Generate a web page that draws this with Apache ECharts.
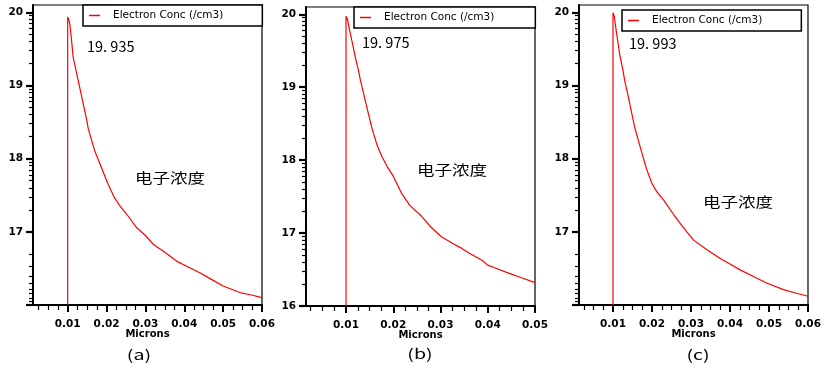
<!DOCTYPE html>
<html><head><meta charset="utf-8">
<script src="https://cdn.jsdelivr.net/npm/echarts@6/dist/echarts.min.js"></script>
<style>html,body{margin:0;padding:0;background:#fff}#c{width:828px;height:370px}</style>
</head><body><div id="c"></div>
<script>
// ---------- data ----------
const seriesName = 'Electron Conc (/cm3)';
const xAxisName = 'Microns';
const noteText = '电子浓度';
const peakLabels = ['19. 935', '19. 975', '19. 993'];
const panelLabels = ['(a)', '(b)', '(c)'];

const xA = [0.01, 0.01, 0.0103, 0.0106, 0.0110, 0.0114, 0.0120, 0.0127, 0.0134, 0.0140, 0.0147, 0.0153, 0.0160, 0.0170, 0.0183, 0.0195, 0.0204, 0.0220, 0.0235, 0.0252, 0.0277, 0.0300, 0.0320, 0.0350, 0.0380, 0.0410, 0.0440, 0.0470, 0.0500, 0.0543, 0.0570, 0.0600];
const yA = [16.0, 19.935, 19.90, 19.82, 19.62, 19.39, 19.24, 19.07, 18.90, 18.75, 18.58, 18.41, 18.28, 18.10, 17.93, 17.77, 17.65, 17.47, 17.35, 17.24, 17.06, 16.95, 16.83, 16.72, 16.60, 16.52, 16.44, 16.35, 16.26, 16.17, 16.14, 16.10];

const xB = [0.01, 0.01, 0.0103, 0.0107, 0.0115, 0.0120, 0.0126, 0.0131, 0.0137, 0.0145, 0.0154, 0.0158, 0.0166, 0.0176, 0.0188, 0.0200, 0.0218, 0.0235, 0.0260, 0.0280, 0.0302, 0.0325, 0.0345, 0.0365, 0.0387, 0.0400, 0.0420, 0.0444, 0.0470, 0.0500];
const yB = [16.0, 19.975, 19.93, 19.80, 19.56, 19.40, 19.24, 19.08, 18.92, 18.70, 18.46, 18.37, 18.20, 18.05, 17.90, 17.78, 17.54, 17.38, 17.23, 17.08, 16.95, 16.86, 16.79, 16.71, 16.63, 16.56, 16.51, 16.45, 16.39, 16.32];

const xC = [0.01, 0.01, 0.0103, 0.0109, 0.0118, 0.0125, 0.0131, 0.0138, 0.0144, 0.0150, 0.0156, 0.0165, 0.0174, 0.0186, 0.0199, 0.0212, 0.0229, 0.0255, 0.0280, 0.0306, 0.0340, 0.0374, 0.0400, 0.0426, 0.0460, 0.0494, 0.0537, 0.0570, 0.0600];
const yC = [16.0, 19.993, 19.95, 19.72, 19.40, 19.22, 19.04, 18.88, 18.72, 18.57, 18.42, 18.25, 18.08, 17.86, 17.67, 17.55, 17.44, 17.24, 17.06, 16.89, 16.76, 16.64, 16.56, 16.48, 16.39, 16.30, 16.21, 16.16, 16.12];

const xMajorA = [0.01, 0.02, 0.03, 0.04, 0.05, 0.06];
const xMajorB = [0.01, 0.02, 0.03, 0.04, 0.05];
const xMajorC = [0.01, 0.02, 0.03, 0.04, 0.05, 0.06];
const yMajor = [16, 17, 18, 19, 20];
const yLabelsA = [17, 18, 19, 20];
const yLabelsB = [16, 17, 18, 19, 20];
const yLabelsC = [17, 18, 19, 20];

// ---------- layout ----------
const panels = [
  { x: xA, y: yA, xMajor: xMajorA, yLabels: yLabelsA, xMin: 0.00108, xMax: 0.06, mirror: true,
    grid: { left: 33, top: 5, width: 229, height: 300 },
    legend: { left: 83, top: 5, padding: [5, 39, 5, 6] },
    peak: [87, 46], note: [135, 178], label: [139, 355] },
  { x: xB, y: yB, xMajor: xMajorB, yLabels: yLabelsB, xMin: 0.00153, xMax: 0.05, mirror: false,
    grid: { left: 306, top: 7, width: 229, height: 299 },
    legend: { left: 354, top: 7, padding: [5, 41, 5, 6] },
    peak: [362, 42], note: [417, 170], label: [420, 354] },
  { x: xC, y: yC, xMajor: xMajorC, yLabels: yLabelsC, xMin: 0.00128, xMax: 0.06, mirror: true,
    grid: { left: 579, top: 5, width: 229, height: 300 },
    legend: { left: 622, top: 10, padding: [5, 39, 5, 6] },
    peak: [629, 43], note: [703, 202], label: [698, 355] }
];

function yMinorTicks(mirror) {
  const out = [];
  for (let D = 16; D <= 19; D++) {
    for (let k = 2; k <= 9; k++) {
      out.push((mirror && D === 16) ? D + 1 - Math.log10(k) : D + Math.log10(k));
    }
  }
  return out;
}
function xMinorTicks(min, max) {
  const out = [];
  for (let i = 1; i * 0.0025 <= max + 1e-9; i++) {
    if (i % 4 === 0) continue;
    const v = i * 0.0025;
    if (v > min) out.push(+v.toFixed(4));
  }
  return out;
}

const FONT = 'DejaVu Sans';
const grid = [], xAxis = [], yAxis = [], series = [], legend = [], graphic = [];

panels.forEach((p, i) => {
  grid.push(Object.assign({ show: true, borderColor: '#000', borderWidth: 1.2, backgroundColor: '#fff' }, p.grid));
  // major x axis
  xAxis.push({
    gridIndex: i, type: 'value', position: 'bottom', offset: 0, min: p.xMin, max: p.xMax,
    name: xAxisName, nameLocation: 'middle', nameGap: 24, nameMoveOverlap: false,
    nameTextStyle: { color: '#000', fontSize: 10, fontWeight: 'bold', fontFamily: FONT, verticalAlign: 'top' },
    axisLine: { show: true, onZero: false, lineStyle: { color: '#000', width: 2 } },
    axisTick: { show: true, customValues: p.xMajor, length: 7, lineStyle: { color: '#000', width: 2 } },
    axisLabel: { show: true, customValues: p.xMajor, margin: 14, color: '#000', fontSize: 10.5, fontWeight: 'bold', fontFamily: FONT,
      formatter: v => v.toFixed(2) },
    splitLine: { show: false }
  });
  // minor x axis
  xAxis.push({
    gridIndex: i, type: 'value', position: 'bottom', offset: 0, min: p.xMin, max: p.xMax,
    axisLine: { show: false, onZero: false },
    axisTick: { show: true, customValues: xMinorTicks(p.xMin, p.xMax), length: 5, lineStyle: { color: '#000', width: 1.2 } },
    axisLabel: { show: false }, splitLine: { show: false }
  });
  // major y axis
  yAxis.push({
    gridIndex: i, type: 'value', position: 'left', offset: 0, min: 16, max: 20.1,
    axisLine: { show: true, onZero: false, lineStyle: { color: '#000', width: 2 } },
    axisTick: { show: true, customValues: yMajor, length: 7, lineStyle: { color: '#000', width: 2.2 } },
    axisLabel: { show: true, customValues: p.yLabels, margin: 10, color: '#000', fontSize: 10.5, fontWeight: 'bold', fontFamily: FONT },
    splitLine: { show: false }
  });
  // minor y axis
  yAxis.push({
    gridIndex: i, type: 'value', position: 'left', offset: 0, min: 16, max: 20.1,
    axisLine: { show: false, onZero: false },
    axisTick: { show: true, customValues: yMinorTicks(p.mirror), length: 4, lineStyle: { color: '#000', width: 1.2 } },
    axisLabel: { show: false }, splitLine: { show: false }
  });
  series.push({
    type: 'line', name: seriesName, xAxisIndex: 2 * i, yAxisIndex: 2 * i,
    data: p.x.map((xv, j) => [xv, p.y[j]]),
    showSymbol: false, symbol: 'none', smooth: false, clip: true,
    lineStyle: { color: '#ff0000', width: 1.2 }, itemStyle: { color: '#ff0000' }
  });
  legend.push({
    data: [seriesName], left: p.legend.left, top: p.legend.top, padding: p.legend.padding,
    orient: 'horizontal', icon: 'rect', itemWidth: 11, itemHeight: 1.5,
    borderColor: '#000', borderWidth: 1.5, backgroundColor: '#fff', borderRadius: 0,
    selectedMode: false,
    textStyle: { color: '#000', fontSize: 10.5, fontFamily: FONT, padding: [0, 0, 0, 8] }
  });
  graphic.push({
    type: 'text', x: p.peak[0], y: p.peak[1], z: 100,
    style: { text: peakLabels[i], fill: '#000', fontSize: 14.5, fontFamily: 'Noto Sans CJK SC', verticalAlign: 'middle', align: 'left' }
  });
  graphic.push({
    type: 'text', x: p.note[0], y: p.note[1], scaleX: 1.25, z: 100,
    style: { text: noteText, fill: '#000', fontSize: 14, fontFamily: 'Noto Sans CJK SC', verticalAlign: 'middle', align: 'left' }
  });
  graphic.push({
    type: 'text', x: p.label[0], y: p.label[1], scaleX: 1.4, z: 100,
    style: { text: panelLabels[i], fill: '#000', fontSize: 14, fontFamily: 'Noto Sans CJK SC', verticalAlign: 'middle', align: 'center' }
  });
});

const chart = echarts.init(document.getElementById('c'), null, { renderer: 'canvas' });
chart.setOption({
  animation: false,
  backgroundColor: '#fff',
  textStyle: { fontFamily: FONT },
  grid, xAxis, yAxis, series, legend, graphic
});
</script>
</body></html>
